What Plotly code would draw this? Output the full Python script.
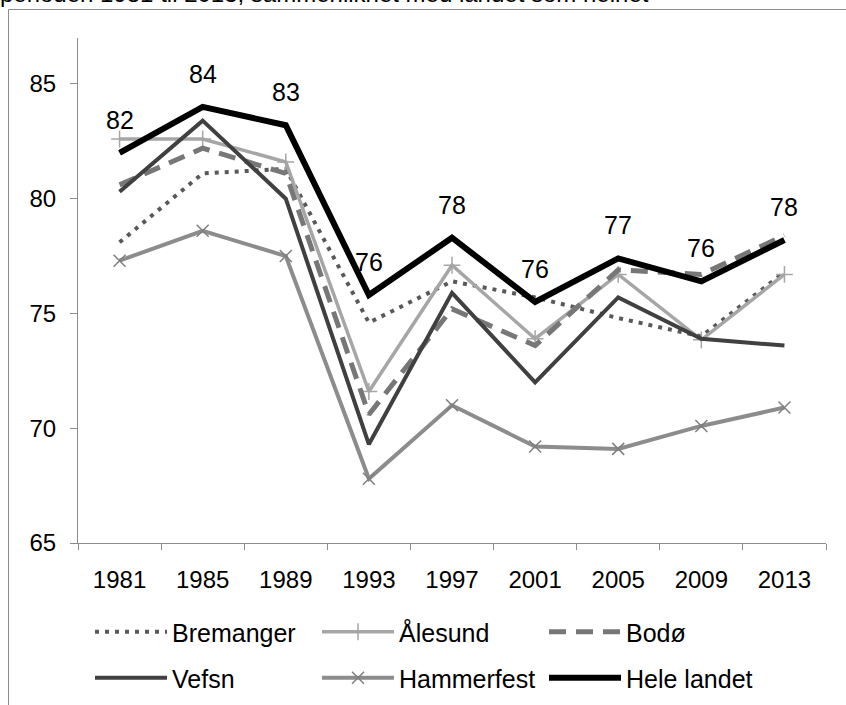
import plotly.graph_objects as go

years = ["1981", "1985", "1989", "1993", "1997", "2001", "2005", "2009", "2013"]

bremanger = [78.1, 81.1, 81.3, 74.6, 76.4, 75.7, 74.8, 74.0, 76.8]
alesund = [82.6, 82.6, 81.6, 71.6, 77.1, 73.9, 76.7, 73.85, 76.7]
bodo = [80.6, 82.2, 81.1, 70.6, 75.2, 73.6, 76.9, 76.7, 78.4]
vefsn = [80.3, 83.4, 80.0, 69.3, 75.9, 72.0, 75.7, 73.9, 73.6]
hammerfest = [77.3, 78.6, 77.5, 67.8, 71.0, 69.2, 69.1, 70.1, 70.9]
hele_landet = [82.0, 84.0, 83.2, 75.8, 78.3, 75.5, 77.4, 76.4, 78.2]
hele_labels = ["82", "84", "83", "76", "78", "76", "77", "76", "78"]

title_text = "perioden 1981 til 2013, sammenlikhet med landet som helhet"

W, H = 846, 705
L, R, T, B = 78, 20, 38, 162
PW, PH = W - L - R, H - T - B


def px(x):
    return (x - L) / PW


def py(y):
    return (H - B - y) / PH


FONT = "Liberation Sans, Arial, sans-serif"

fig = go.Figure()

fig.add_trace(go.Scatter(x=years, y=bremanger, name="Bremanger", mode="lines",
                         line=dict(color="#595959", width=4, dash="4px,6px"),
                         legend="legend"))
fig.add_trace(go.Scatter(x=years, y=alesund, name="Ålesund", mode="lines+markers",
                         line=dict(color="#a6a6a6", width=3.5),
                         marker=dict(symbol="cross-thin", size=12, color="#a6a6a6",
                                     line=dict(color="#a6a6a6", width=1.5)),
                         legend="legend"))
fig.add_trace(go.Scatter(x=years, y=bodo, name="Bodø", mode="lines",
                         line=dict(color="#777777", width=5, dash="17px,10px"),
                         legend="legend"))
fig.add_trace(go.Scatter(x=years, y=vefsn, name="Vefsn", mode="lines",
                         line=dict(color="#404040", width=4),
                         legend="legend2"))
fig.add_trace(go.Scatter(x=years, y=hammerfest, name="Hammerfest", mode="lines+markers",
                         line=dict(color="#8c8c8c", width=4),
                         marker=dict(symbol="x-thin", size=12, color="#7f7f7f",
                                     line=dict(color="#7f7f7f", width=1.5)),
                         legend="legend2"))
fig.add_trace(go.Scatter(x=years, y=hele_landet, name="Hele landet", mode="lines",
                         line=dict(color="#000000", width=6),
                         legend="legend2"))

for i, (yv, t) in enumerate(zip(hele_landet, hele_labels)):
    fig.add_annotation(x=i, y=yv, xref="x", yref="y", text=t, showarrow=False, yshift=33,
                       font=dict(family=FONT, size=25, color="#000000"))

# partially visible title at top (cut by the page edge)
fig.add_annotation(xref="paper", yref="paper", x=px(-2), y=py(-6.5),
                   xanchor="left", yanchor="middle", text=title_text, showarrow=False,
                   font=dict(family=FONT, size=24, color="#000000"))

# frame
fig.add_shape(type="rect", xref="paper", yref="paper",
              x0=px(8.5), x1=px(W + 20), y0=py(H + 20), y1=py(9.5),
              line=dict(color="#8c8c8c", width=1), fillcolor="rgba(0,0,0,0)", layer="below")

legend_common = dict(orientation="h", font=dict(family=FONT, size=25, color="#000000"),
                     bgcolor="rgba(0,0,0,0)", borderwidth=0, itemwidth=72,
                     entrywidth=140, entrywidthmode="pixels",
                     xanchor="left", yanchor="middle", itemclick=False, itemdoubleclick=False)

fig.update_layout(
    width=W, height=H,
    margin=dict(l=L, r=R, t=T, b=B, autoexpand=False),
    paper_bgcolor="white", plot_bgcolor="white",
    font=dict(family=FONT, size=24, color="#000000"),
    showlegend=True,
    legend=dict(legend_common, x=px(90), y=py(632)),
    legend2=dict(legend_common, x=px(90), y=py(678)),
    xaxis=dict(type="category", range=[-0.5, 8.5], showgrid=False, zeroline=False,
               showline=True, linecolor="#8c8c8c", linewidth=1,
               ticks="outside", ticklen=6, tickcolor="#8c8c8c", tickson="boundaries",
               tickfont=dict(family=FONT, size=24, color="#000000"), ticklabelstandoff=15),
    yaxis=dict(range=[65, 87], tickvals=[65, 70, 75, 80, 85], showgrid=False, zeroline=False,
               showline=True, linecolor="#8c8c8c", linewidth=1,
               ticks="outside", ticklen=7, tickcolor="#8c8c8c",
               tickfont=dict(family=FONT, size=24, color="#000000"), ticklabelstandoff=9),
)

fig.write_html("out.html", config={"displayModeBar": False},
               post_script="document.body.style.margin='0';document.body.style.overflow='hidden';")
